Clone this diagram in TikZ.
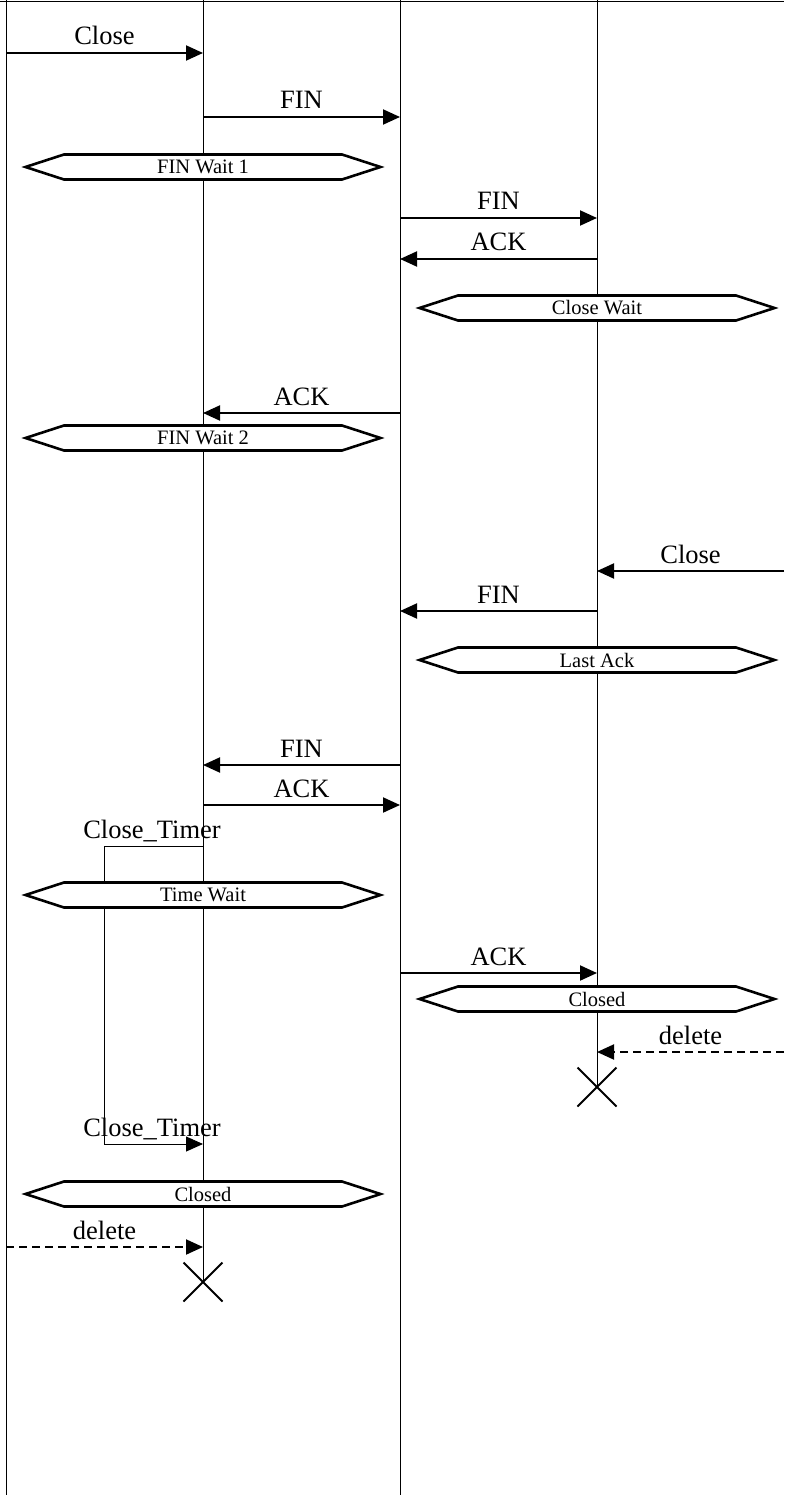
\documentclass[tikz,border=0pt]{standalone}
\usepackage{fontspec}
\setmainfont{Liberation Serif}
\usetikzlibrary{arrows.meta,shapes.symbols,shapes.misc}

\tikzset{
  lifeline/.style={line width=0.9pt},
  msg/.style={line width=2pt,-{Triangle[length=17pt,width=15pt]}},
  dmsg/.style={msg,dash pattern=on 8pt off 5pt},
  lbl/.style={font=\fontsize{26.5}{30}\selectfont,inner sep=0pt,anchor=base},
  state/.style={draw,line width=2.6pt,fill=white,signal,signal to=west and east,
    signal pointer angle=36,minimum width=355pt,minimum height=25pt,inner sep=0pt,
    font=\fontsize{20.5}{24}\selectfont},
  endx/.style={draw,cross out,line width=2pt,minimum size=37pt,inner sep=0pt}
}

\begin{document}
\begin{tikzpicture}[x=1pt,y=-1pt]
  \useasboundingbox (0,0) rectangle (784,1495);
  % lifelines
  \coordinate (l1) at (6,0);
  \coordinate (l2) at (203,0);
  \coordinate (l3) at (400,0);
  \coordinate (l4) at (597,0);
  \coordinate (l5) at (784,0);
  \node[endx] (x2) at (l2 |- 0,1282) {};
  \node[endx] (x4) at (l4 |- 0,1087) {};
  \draw[lifeline] (0,1) -- (l5 |- 0,1);
  \draw[lifeline] (l1) -- (l1 |- 0,1495);
  \draw[lifeline] (l2) -- (x2.center);
  \draw[lifeline] (l3) -- (l3 |- 0,1495);
  \draw[lifeline] (l4) -- (x4.center);

  % timer loop
  \coordinate (t1) at (l2 |- 0,846);
  \coordinate (t2) at (l2 |- 0,1144);
  \draw[lifeline,-{Triangle[length=17pt,width=15pt]}] (t1) -- ++(-99,0) |- (t2);
  \node[lbl] (ct1) at (152,838) {Close\_Timer};
  \node[lbl] (ct2) at (152,1136) {Close\_Timer};

  % states
  \node[state] (fw1) at (l2 |- 0,167) {FIN Wait 1};
  \node[state] (cw) at (l4 |- 0,308) {Close Wait};
  \node[state] (fw2) at (l2 |- 0,438) {FIN Wait 2};
  \node[state] (la) at (l4 |- 0,660) {Last Ack};
  \node[state] (tw) at (l2 |- 0,895) {Time Wait};
  \node[state] (cl4) at (l4 |- 0,999) {Closed};
  \node[state] (cl2) at (l2 |- 0,1194) {Closed};

  % messages
  \draw[msg] (l1 |- 0,53) -- node[lbl,yshift=8pt] {Close} (l2 |- 0,53);
  \draw[msg] (l2 |- 0,117) -- node[lbl,yshift=8pt] {FIN} (l3 |- 0,117);
  \draw[msg] (l3 |- 0,218) -- node[lbl,yshift=8pt] {FIN} (l4 |- 0,218);
  \draw[msg] (l4 |- 0,259) -- node[lbl,yshift=8pt] {ACK} (l3 |- 0,259);
  \draw[msg] (l3 |- 0,413) -- node[lbl,yshift=8pt] {ACK} (l2 |- 0,413);
  \draw[msg] (l5 |- 0,571) -- node[lbl,yshift=8pt] {Close} (l4 |- 0,571);
  \draw[msg] (l4 |- 0,611) -- node[lbl,yshift=8pt] {FIN} (l3 |- 0,611);
  \draw[msg] (l3 |- 0,765) -- node[lbl,yshift=8pt] {FIN} (l2 |- 0,765);
  \draw[msg] (l2 |- 0,805) -- node[lbl,yshift=8pt] {ACK} (l3 |- 0,805);
  \draw[msg] (l3 |- 0,973) -- node[lbl,yshift=8pt] {ACK} (l4 |- 0,973);
  \draw[dmsg] (l5 |- 0,1052) -- node[lbl,yshift=8pt] {delete} (l4 |- 0,1052);
  \draw[dmsg] (l1 |- 0,1247) -- node[lbl,yshift=8pt] {delete} (l2 |- 0,1247);
\end{tikzpicture}
\end{document}
